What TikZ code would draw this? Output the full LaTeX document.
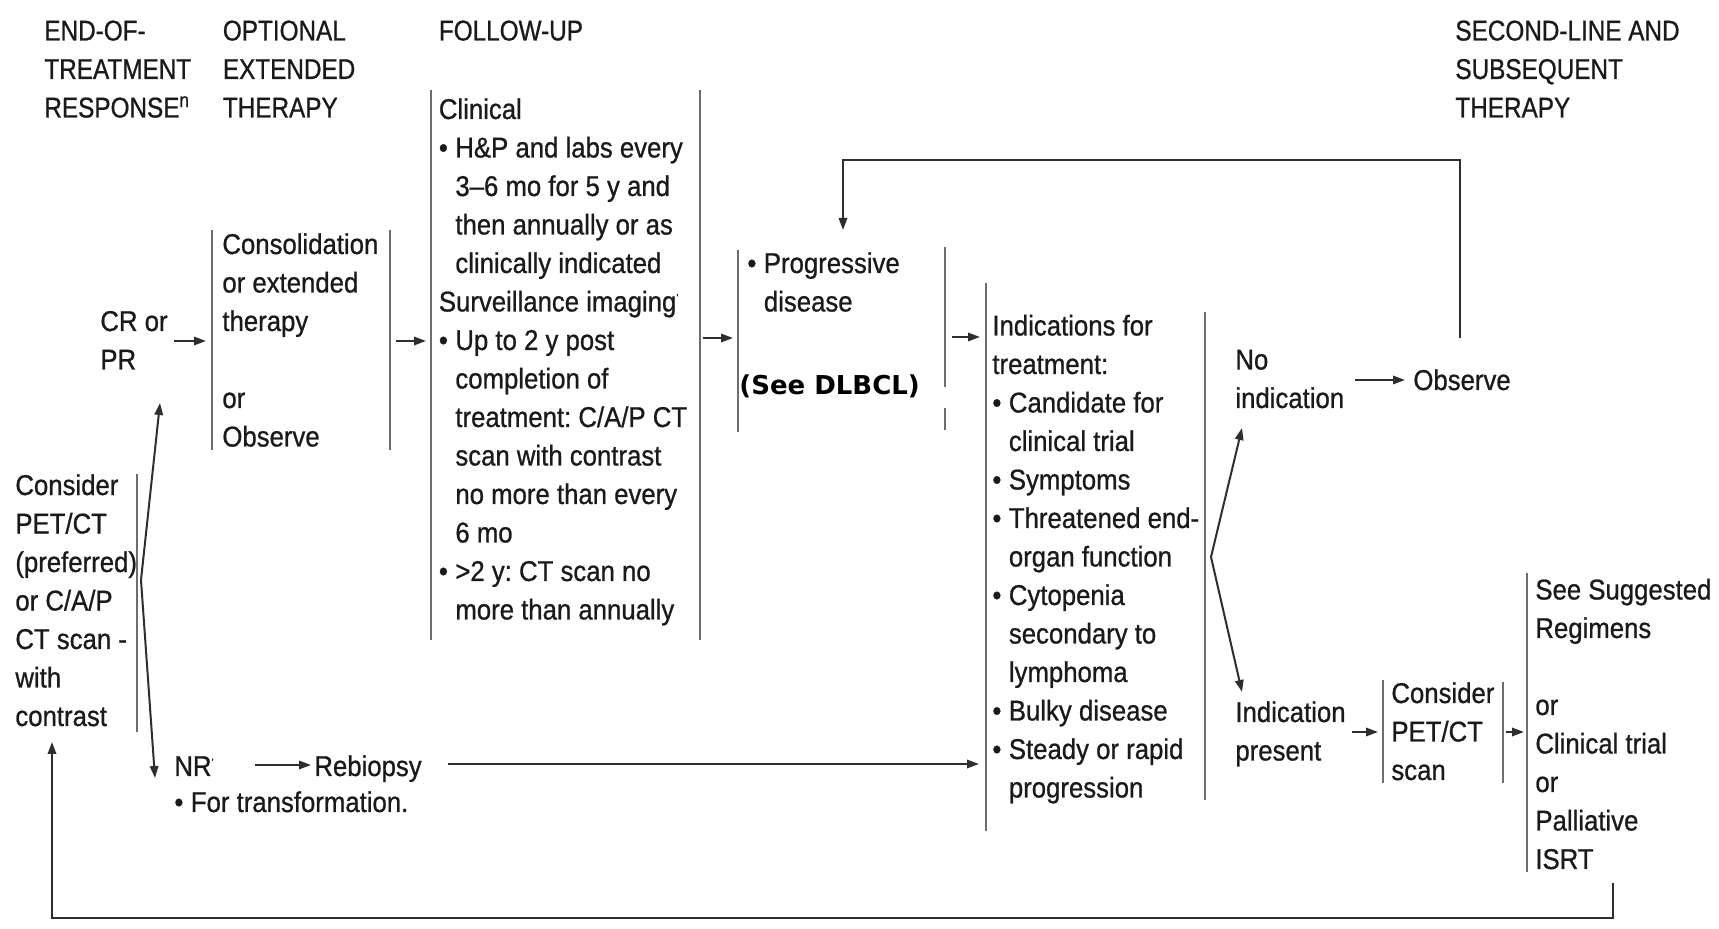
\documentclass[tikz,border=0pt]{standalone}
\usepackage{fontspec}
\setmainfont[FakeStretch=0.9,FakeBold=0.8]{Liberation Sans}
\newfontfamily\hdfont[FakeStretch=0.85,FakeBold=0.8]{Liberation Sans}
\newfontfamily\seefont{DejaVu Sans}
\usepackage{xcolor}
\usepackage{tikz}
\usetikzlibrary{arrows.meta}

\definecolor{ink}{HTML}{1A1A1A}
\definecolor{rulegray}{HTML}{6E6E6E}
\definecolor{wiregray}{HTML}{2E2E2E}
\newcommand{\bl}{\makebox[8.25pt][l]{\textbullet}}
\newcommand{\ind}{\hspace*{8.25pt}}
\frenchspacing

\begin{document}
\begin{tikzpicture}[x=0.5pt,y=0.5pt,yscale=-1,
  txt/.style={anchor=base west,inner sep=0pt,align=left,text=ink,font=\fontsize{14.3}{19.25}\selectfont},
  hd/.style={txt,font=\hdfont\fontsize{14.3}{19.25}\selectfont},
  boxline/.style={draw=rulegray,line width=1pt},
  wire/.style={draw=wiregray,line width=1pt},
  arr/.style={wire,-{Triangle[length=6pt,width=4.2pt]}}]
\useasboundingbox (0,0) rectangle (1719,929);

% Headers (placed by the baseline of their last line)
\draw (44,117.5) node (hdend) [hd] {END-OF-\\TREATMENT\\RESPONSE\textsuperscript{n}};
\draw (222.5,117.5) node (hdopt) [hd] {OPTIONAL\\EXTENDED\\THERAPY};
\draw (438.5,40.5) node (hdfu) [hd] {FOLLOW-UP};
\draw (1455,117.5) node (hdsec) [hd] {SECOND-LINE AND\\SUBSEQUENT\\THERAPY};

% Text Node
\draw (15,726) node (petct) [txt] {Consider\\PET/CT\\(preferred)\\or C/A/P\\CT scan -\\with\\contrast};
% Text Node
\draw (100,369.5) node (crpr) [txt] {CR or\\PR};
% Text Node
\draw (222,446.5) node (consol) [txt] {Consolidation\\or extended\\therapy\\[19.25pt]or\\Observe};
% Text Node
\draw (438.5,619.5) node (follow) [txt] {Clinical\\
\bl H\&P and labs every\\
\ind 3--6 mo for 5 y and\\
\ind then annually or as\\
\ind clinically indicated\\
Surveillance imaging\textsuperscript{\tiny '}\\
\bl Up to 2 y post\\
\ind completion of\\
\ind treatment: C/A/P CT\\
\ind scan with contrast\\
\ind no more than every\\
\ind 6 mo\\
\bl >2 y: CT scan no\\
\ind more than annually};
% Text Node
\draw (747,311.5) node (progr) [txt] {\bl Progressive\\\ind disease};
\draw (739,395) node (seedl) [txt,font=\seefont\bfseries\fontsize{13}{16}\selectfont,text=black] {(See DLBCL)};
% Text Node
\draw (992,797.5) node (indic) [txt] {Indications for\\
treatment:\\
\bl Candidate for\\
\ind clinical trial\\
\bl Symptoms\\
\bl Threatened end-\\
\ind organ function\\
\bl Cytopenia\\
\ind secondary to\\
\ind lymphoma\\
\bl Bulky disease\\
\bl Steady or rapid\\
\ind progression};
% Text Node
\draw (1235,408) node (noind) [txt] {No\\indication};
\draw (1413,390) node (obs) [txt] {Observe};
\draw (1235,760.5) node (indpr) [txt] {Indication\\present};
\draw (1391,780) node (cpet) [txt] {Consider\\PET/CT\\scan};
\draw (1535,869) node (regim) [txt] {See Suggested\\Regimens\\[19.25pt]or\\Clinical trial\\or\\Palliative\\ISRT};
% Text Node
\draw (174,776) node (nr) [txt] {NR\textsuperscript{\tiny '}};
\draw (314,776) node (rebio) [txt] {Rebiopsy};
\draw (174,812) node (transf) [txt] {\bl For transformation.};

%Straight Lines (box sides)
\draw [boxline] (137,474) -- (137,732);
\draw [boxline] (211.6,230) -- (211.6,450);
\draw [boxline] (390,230) -- (390,450);
\draw [boxline] (430.5,90) -- (430.5,640);
\draw [boxline] (700,90) -- (700,640);
\draw [boxline] (738,250) -- (738,432);
\draw [boxline] (945,247) -- (945,387);
\draw [boxline] (945,408) -- (945,430);
\draw [boxline] (985.6,283) -- (985.6,831);
\draw [boxline] (1205,312) -- (1205,800);
\draw [boxline] (1383,680) -- (1383,783);
\draw [boxline] (1503,682) -- (1503,783);
\draw [boxline] (1527,573) -- (1527,872);

% connector ends
\coordinate (lapex) at (141,580);
\coordinate (crtip) at (160,403);
\coordinate (nrtip) at (155,778);
\coordinate (crout) at (174,341);
\coordinate (consin) at (206,341);
\coordinate (consout) at (396,341);
\coordinate (fuin) at (426,341);
\coordinate (fuout) at (703,338);
\coordinate (progin) at (733,338);
\coordinate (progout) at (952,337);
\coordinate (indin) at (980,337);
\coordinate (nrout) at (255,765);
\coordinate (rebin) at (311,765);
\coordinate (rebout) at (448,764);
\coordinate (indin2) at (979,764);
\coordinate (rapex) at (1211,557);
\coordinate (notip) at (1242,428);
\coordinate (yestip) at (1242,692);
\coordinate (noout) at (1355,380);
\coordinate (obsin) at (1405,380);
\coordinate (obstop) at (1460,338);
\coordinate (progtop) at (843,230);
\coordinate (presout) at (1352,732);
\coordinate (cpetin) at (1378,732);
\coordinate (cpetout) at (1506,732);
\coordinate (regin) at (1524,732);
\coordinate (regbot) at (1613,883);
\coordinate (petbot) at (52,742);

%Straight Lines (arrows)
\draw [arr] (lapex) -- (crtip);
\draw [arr] (lapex) -- (nrtip);
\draw [arr] (crout) -- (consin);
\draw [arr] (consout) -- (fuin);
\draw [arr] (fuout) -- (progin);
\draw [arr] (progout) -- (indin);
\draw [arr] (nrout) -- (rebin);
\draw [arr] (rebout) -- (indin2);
\draw [arr] (rapex) -- (notip);
\draw [arr] (rapex) -- (yestip);
\draw [arr] (noout) -- (obsin);
\draw [arr] (obstop) |- (843,160) -- (progtop);
\draw [arr] (presout) -- (cpetin);
\draw [arr] (cpetout) -- (regin);
\draw [arr] (regbot) |- (52,918) -- (petbot);

\end{tikzpicture}
\end{document}
